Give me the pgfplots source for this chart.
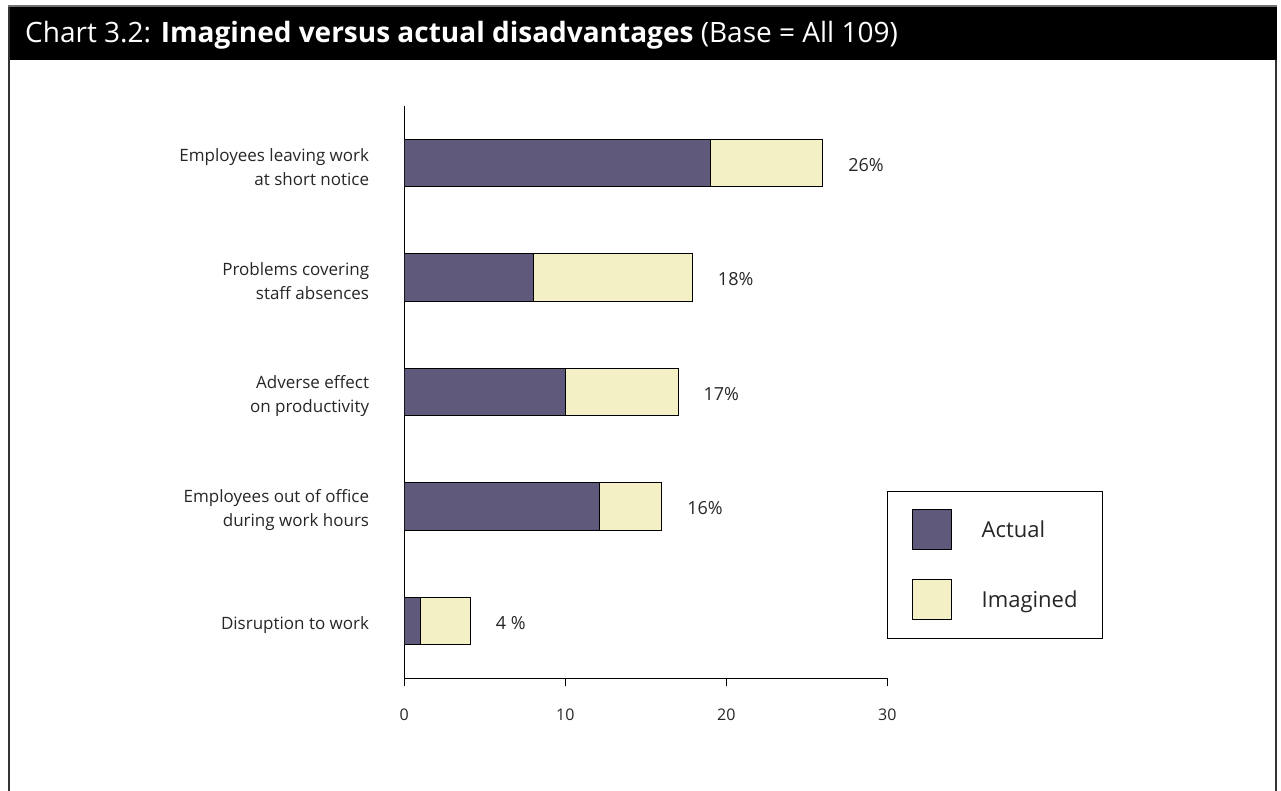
\documentclass[border=0pt]{standalone}
\usepackage{fontspec}
\setmainfont{Open Sans}
\usepackage{pgfplots}
\pgfplotsset{compat=1.18}
\usepackage{pgfplotstable}
\definecolor{actualc}{RGB}{95,90,124}
\definecolor{imagc}{RGB}{242,240,196}
\pgfplotstableread[col sep=comma]{
y,actual,imag,lab
0,19,7,26\%
1,8,9.9,18\%
2,10,7,17\%
3,12.1,3.9,16\%
4,1,3.1,4 \%
}\data
\begin{document}
\begin{tikzpicture}
\path[use as bounding box] (0pt,0pt) rectangle (1281pt,791pt);
% frame and title bar
\fill[black] (8pt,731pt) rectangle (1277pt,784pt);
\draw[line width=1.2pt, black!55] (8pt,785pt) -- (1277pt,785pt);
\draw[line width=2pt, black!80] (9pt,-5pt) -- (9pt,784pt);
\draw[line width=2pt, black!80] (1276pt,-5pt) -- (1276pt,731pt);
\node[anchor=base west, text=white, font=\fontsize{28}{32}\selectfont, inner sep=0pt] at (25pt,748pt)
  {Chart 3.2: \textbf{Imagined versus actual disadvantages} (Base = All 109)};
\begin{axis}[
  at={(404.3pt,112.7pt)}, anchor=south west,
  scale only axis, width=483pt, height=572.6pt,
  xbar stacked, bar width=47.7pt,
  xmin=0, xmax=30, ymin=-0.5, ymax=4.5, y dir=reverse,
  axis lines*=left,
  axis line style={line width=1pt, black},
  xtick={0,10,20,30},
  ytick={0,1,2,3,4},
  yticklabels={{Employees leaving work\\at short notice},{Problems covering\\staff absences},{Adverse effect\\on productivity},{Employees out of office\\during work hours},{Disruption to work}},
  tick align=outside,
  major tick length=8pt,
  x tick style={line width=1pt, black},
  ytick style={draw=none},
  extra y ticks={-0.5,0.5,1.5,2.5,3.5,4.5},
  extra y tick labels={},
  extra y tick style={major tick length=11pt, tick style={line width=1pt, draw=black}},
  /pgf/number format/assume math mode=true,
  xticklabel style={font=\fontsize{16}{19}\selectfont, text=black!85, yshift=-19pt},
  yticklabel style={font=\fontsize{17}{24}\selectfont, align=right, text=black!85, inner sep=0pt, xshift=-27pt, yshift=-4pt},
  legend style={at={(0.9988,0.3276)}, anchor=north west, draw=black, line width=1pt,
    inner xsep=25pt, inner ysep=18pt, row sep=29pt,
    font=\fontsize{22}{26}\selectfont, text=black!85,
    nodes={inner sep=0pt, anchor=west}},
  legend cell align=left,
  legend image code/.code={\draw[#1, line width=1pt] (0pt,-20pt) rectangle (39pt,20pt); \path[draw=none, fill=none] (0pt,0pt) -- (69pt,0pt);},
]
\addplot[fill=actualc, draw=black, line width=1pt] table[x=actual, y=y] {\data};
\addlegendentry{Actual}
\addplot[fill=imagc, draw=black, line width=1pt,
  point meta=explicit symbolic,
  visualization depends on={\thisrow{imag} \as \imagval},
  nodes near coords,
  every node near coord/.append style={anchor=west, inner sep=0pt, draw=none, fill=none,
    xshift={(25+8.05*\imagval)*1pt}, yshift=-2pt, font=\fontsize{18}{21}\selectfont, text=black!85}
  ] table[x=imag, y=y, meta=lab] {\data};
\addlegendentry{Imagined}
\end{axis}
\end{tikzpicture}
\end{document}
